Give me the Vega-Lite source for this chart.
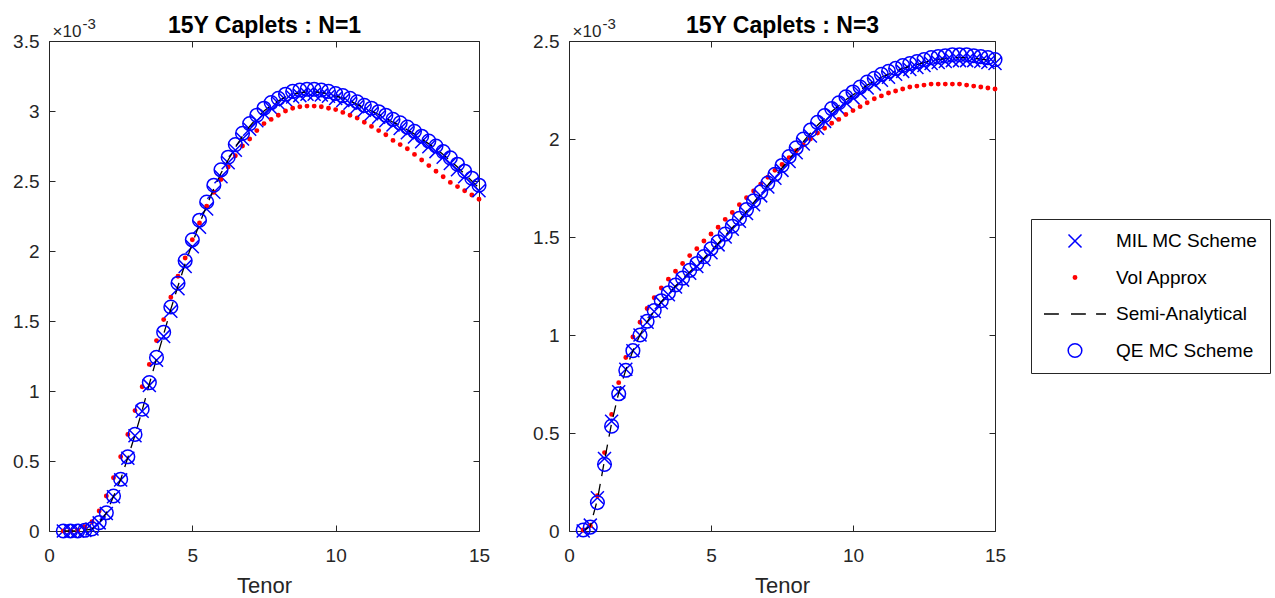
{
  "$schema": "https://vega.github.io/schema/vega-lite/v6.json",
  "padding": {"left": 12, "top": 14, "right": 0, "bottom": 0},
  "data": {"values": [
    {"n":1,"t":0.5,"mil":0,"vol":0,"semi":0,"qe":0},
    {"n":1,"t":0.75,"mil":0,"vol":0,"semi":0,"qe":0},
    {"n":1,"t":1,"mil":0,"vol":0.005,"semi":0,"qe":0},
    {"n":1,"t":1.25,"mil":0.004,"vol":0.03,"semi":0.004,"qe":0.005},
    {"n":1,"t":1.5,"mil":0.014,"vol":0.066,"semi":0.015,"qe":0.015},
    {"n":1,"t":1.75,"mil":0.058,"vol":0.143,"semi":0.059,"qe":0.06},
    {"n":1,"t":2,"mil":0.125,"vol":0.25,"semi":0.128,"qe":0.13},
    {"n":1,"t":2.25,"mil":0.245,"vol":0.38,"semi":0.248,"qe":0.25},
    {"n":1,"t":2.5,"mil":0.365,"vol":0.53,"semi":0.368,"qe":0.37},
    {"n":1,"t":2.75,"mil":0.52,"vol":0.69,"semi":0.525,"qe":0.53},
    {"n":1,"t":3,"mil":0.68,"vol":0.86,"semi":0.685,"qe":0.69},
    {"n":1,"t":3.25,"mil":0.855,"vol":1.03,"semi":0.862,"qe":0.87},
    {"n":1,"t":3.5,"mil":1.04,"vol":1.19,"semi":1.05,"qe":1.06},
    {"n":1,"t":3.75,"mil":1.22,"vol":1.36,"semi":1.23,"qe":1.24},
    {"n":1,"t":4,"mil":1.39,"vol":1.51,"semi":1.405,"qe":1.42},
    {"n":1,"t":4.25,"mil":1.57,"vol":1.67,"semi":1.585,"qe":1.6},
    {"n":1,"t":4.5,"mil":1.73,"vol":1.82,"semi":1.75,"qe":1.77},
    {"n":1,"t":4.75,"mil":1.89,"vol":1.95,"semi":1.91,"qe":1.93},
    {"n":1,"t":5,"mil":2.03,"vol":2.08,"semi":2.055,"qe":2.08},
    {"n":1,"t":5.25,"mil":2.17,"vol":2.2,"semi":2.195,"qe":2.22},
    {"n":1,"t":5.5,"mil":2.3,"vol":2.32,"semi":2.325,"qe":2.35},
    {"n":1,"t":5.75,"mil":2.42,"vol":2.42,"semi":2.445,"qe":2.47},
    {"n":1,"t":6,"mil":2.53,"vol":2.51,"semi":2.555,"qe":2.58},
    {"n":1,"t":6.25,"mil":2.63,"vol":2.6,"semi":2.65,"qe":2.67},
    {"n":1,"t":6.5,"mil":2.72,"vol":2.68,"semi":2.74,"qe":2.76},
    {"n":1,"t":6.75,"mil":2.8,"vol":2.75,"semi":2.82,"qe":2.84},
    {"n":1,"t":7,"mil":2.87,"vol":2.8,"semi":2.89,"qe":2.91},
    {"n":1,"t":7.25,"mil":2.93,"vol":2.86,"semi":2.95,"qe":2.97},
    {"n":1,"t":7.5,"mil":2.98,"vol":2.91,"semi":3.0,"qe":3.02},
    {"n":1,"t":7.75,"mil":3.02,"vol":2.94,"semi":3.04,"qe":3.06},
    {"n":1,"t":8,"mil":3.055,"vol":2.97,"semi":3.072,"qe":3.09},
    {"n":1,"t":8.25,"mil":3.08,"vol":3.0,"semi":3.1,"qe":3.12},
    {"n":1,"t":8.5,"mil":3.1,"vol":3.02,"semi":3.12,"qe":3.14},
    {"n":1,"t":8.75,"mil":3.11,"vol":3.03,"semi":3.13,"qe":3.15},
    {"n":1,"t":9,"mil":3.12,"vol":3.035,"semi":3.137,"qe":3.155},
    {"n":1,"t":9.25,"mil":3.12,"vol":3.035,"semi":3.137,"qe":3.155},
    {"n":1,"t":9.5,"mil":3.115,"vol":3.03,"semi":3.132,"qe":3.15},
    {"n":1,"t":9.75,"mil":3.105,"vol":3.02,"semi":3.122,"qe":3.14},
    {"n":1,"t":10,"mil":3.09,"vol":3.01,"semi":3.107,"qe":3.125},
    {"n":1,"t":10.25,"mil":3.075,"vol":2.99,"semi":3.092,"qe":3.11},
    {"n":1,"t":10.5,"mil":3.055,"vol":2.97,"semi":3.072,"qe":3.09},
    {"n":1,"t":10.75,"mil":3.03,"vol":2.95,"semi":3.047,"qe":3.065},
    {"n":1,"t":11,"mil":3.005,"vol":2.92,"semi":3.022,"qe":3.04},
    {"n":1,"t":11.25,"mil":2.98,"vol":2.89,"semi":3.0,"qe":3.02},
    {"n":1,"t":11.5,"mil":2.955,"vol":2.86,"semi":2.975,"qe":2.995},
    {"n":1,"t":11.75,"mil":2.93,"vol":2.83,"semi":2.95,"qe":2.97},
    {"n":1,"t":12,"mil":2.9,"vol":2.79,"semi":2.92,"qe":2.94},
    {"n":1,"t":12.25,"mil":2.875,"vol":2.76,"semi":2.895,"qe":2.915},
    {"n":1,"t":12.5,"mil":2.845,"vol":2.73,"semi":2.865,"qe":2.885},
    {"n":1,"t":12.75,"mil":2.815,"vol":2.69,"semi":2.835,"qe":2.855},
    {"n":1,"t":13,"mil":2.78,"vol":2.65,"semi":2.8,"qe":2.82},
    {"n":1,"t":13.25,"mil":2.745,"vol":2.61,"semi":2.765,"qe":2.785},
    {"n":1,"t":13.5,"mil":2.71,"vol":2.57,"semi":2.73,"qe":2.75},
    {"n":1,"t":13.75,"mil":2.67,"vol":2.53,"semi":2.69,"qe":2.71},
    {"n":1,"t":14,"mil":2.625,"vol":2.49,"semi":2.645,"qe":2.665},
    {"n":1,"t":14.25,"mil":2.58,"vol":2.46,"semi":2.6,"qe":2.62},
    {"n":1,"t":14.5,"mil":2.53,"vol":2.43,"semi":2.55,"qe":2.57},
    {"n":1,"t":14.75,"mil":2.48,"vol":2.4,"semi":2.5,"qe":2.52},
    {"n":1,"t":15,"mil":2.43,"vol":2.37,"semi":2.45,"qe":2.47},
    {"n":3,"t":0.5,"mil":0,"vol":0.005,"semi":0,"qe":0.005},
    {"n":3,"t":0.75,"mil":0.03,"vol":0.027,"semi":0.025,"qe":0.02},
    {"n":3,"t":1,"mil":0.17,"vol":0.18,"semi":0.16,"qe":0.145},
    {"n":3,"t":1.25,"mil":0.37,"vol":0.4,"semi":0.36,"qe":0.34},
    {"n":3,"t":1.5,"mil":0.56,"vol":0.595,"semi":0.55,"qe":0.535},
    {"n":3,"t":1.75,"mil":0.71,"vol":0.757,"semi":0.705,"qe":0.7},
    {"n":3,"t":2,"mil":0.825,"vol":0.885,"semi":0.822,"qe":0.82},
    {"n":3,"t":2.25,"mil":0.92,"vol":0.99,"semi":0.92,"qe":0.92},
    {"n":3,"t":2.5,"mil":1.0,"vol":1.065,"semi":1.0,"qe":1.0},
    {"n":3,"t":2.75,"mil":1.065,"vol":1.135,"semi":1.067,"qe":1.07},
    {"n":3,"t":3,"mil":1.12,"vol":1.19,"semi":1.122,"qe":1.125},
    {"n":3,"t":3.25,"mil":1.165,"vol":1.24,"semi":1.17,"qe":1.175},
    {"n":3,"t":3.5,"mil":1.205,"vol":1.285,"semi":1.21,"qe":1.215},
    {"n":3,"t":3.75,"mil":1.245,"vol":1.325,"semi":1.25,"qe":1.255},
    {"n":3,"t":4,"mil":1.28,"vol":1.365,"semi":1.285,"qe":1.29},
    {"n":3,"t":4.25,"mil":1.315,"vol":1.405,"semi":1.322,"qe":1.33},
    {"n":3,"t":4.5,"mil":1.35,"vol":1.44,"semi":1.357,"qe":1.365},
    {"n":3,"t":4.75,"mil":1.385,"vol":1.48,"semi":1.392,"qe":1.4},
    {"n":3,"t":5,"mil":1.42,"vol":1.515,"semi":1.43,"qe":1.44},
    {"n":3,"t":5.25,"mil":1.46,"vol":1.55,"semi":1.467,"qe":1.475},
    {"n":3,"t":5.5,"mil":1.5,"vol":1.59,"semi":1.507,"qe":1.515},
    {"n":3,"t":5.75,"mil":1.54,"vol":1.625,"semi":1.547,"qe":1.555},
    {"n":3,"t":6,"mil":1.58,"vol":1.665,"semi":1.587,"qe":1.595},
    {"n":3,"t":6.25,"mil":1.62,"vol":1.7,"semi":1.63,"qe":1.64},
    {"n":3,"t":6.5,"mil":1.665,"vol":1.735,"semi":1.675,"qe":1.685},
    {"n":3,"t":6.75,"mil":1.71,"vol":1.77,"semi":1.72,"qe":1.73},
    {"n":3,"t":7,"mil":1.755,"vol":1.805,"semi":1.765,"qe":1.775},
    {"n":3,"t":7.25,"mil":1.8,"vol":1.84,"semi":1.81,"qe":1.82},
    {"n":3,"t":7.5,"mil":1.84,"vol":1.87,"semi":1.852,"qe":1.865},
    {"n":3,"t":7.75,"mil":1.885,"vol":1.905,"semi":1.897,"qe":1.91},
    {"n":3,"t":8,"mil":1.93,"vol":1.94,"semi":1.942,"qe":1.955},
    {"n":3,"t":8.25,"mil":1.975,"vol":1.97,"semi":1.987,"qe":2.0},
    {"n":3,"t":8.5,"mil":2.015,"vol":2.0,"semi":2.03,"qe":2.045},
    {"n":3,"t":8.75,"mil":2.055,"vol":2.03,"semi":2.07,"qe":2.085},
    {"n":3,"t":9,"mil":2.09,"vol":2.055,"semi":2.105,"qe":2.12},
    {"n":3,"t":9.25,"mil":2.125,"vol":2.08,"semi":2.14,"qe":2.155},
    {"n":3,"t":9.5,"mil":2.155,"vol":2.1,"semi":2.17,"qe":2.185},
    {"n":3,"t":9.75,"mil":2.185,"vol":2.125,"semi":2.2,"qe":2.215},
    {"n":3,"t":10,"mil":2.21,"vol":2.145,"semi":2.225,"qe":2.24},
    {"n":3,"t":10.25,"mil":2.235,"vol":2.165,"semi":2.25,"qe":2.265},
    {"n":3,"t":10.5,"mil":2.26,"vol":2.185,"semi":2.275,"qe":2.29},
    {"n":3,"t":10.75,"mil":2.28,"vol":2.205,"semi":2.295,"qe":2.31},
    {"n":3,"t":11,"mil":2.3,"vol":2.22,"semi":2.315,"qe":2.33},
    {"n":3,"t":11.25,"mil":2.315,"vol":2.235,"semi":2.33,"qe":2.345},
    {"n":3,"t":11.5,"mil":2.33,"vol":2.245,"semi":2.345,"qe":2.36},
    {"n":3,"t":11.75,"mil":2.345,"vol":2.255,"semi":2.36,"qe":2.375},
    {"n":3,"t":12,"mil":2.355,"vol":2.265,"semi":2.37,"qe":2.385},
    {"n":3,"t":12.25,"mil":2.365,"vol":2.27,"semi":2.38,"qe":2.395},
    {"n":3,"t":12.5,"mil":2.375,"vol":2.275,"semi":2.39,"qe":2.405},
    {"n":3,"t":12.75,"mil":2.385,"vol":2.28,"semi":2.4,"qe":2.415},
    {"n":3,"t":13,"mil":2.39,"vol":2.28,"semi":2.405,"qe":2.42},
    {"n":3,"t":13.25,"mil":2.395,"vol":2.28,"semi":2.41,"qe":2.425},
    {"n":3,"t":13.5,"mil":2.4,"vol":2.28,"semi":2.415,"qe":2.43},
    {"n":3,"t":13.75,"mil":2.4,"vol":2.28,"semi":2.415,"qe":2.43},
    {"n":3,"t":14,"mil":2.4,"vol":2.275,"semi":2.415,"qe":2.43},
    {"n":3,"t":14.25,"mil":2.4,"vol":2.27,"semi":2.412,"qe":2.425},
    {"n":3,"t":14.5,"mil":2.395,"vol":2.265,"semi":2.407,"qe":2.42},
    {"n":3,"t":14.75,"mil":2.39,"vol":2.26,"semi":2.402,"qe":2.415},
    {"n":3,"t":15,"mil":2.385,"vol":2.255,"semi":2.395,"qe":2.405}
  ]},
  "spacing": 41,
  "hconcat": [
    {
      "width": 430,
      "height": 490,
      "transform": [{"filter": "datum.n == 1"}, {"fold": ["mil", "vol", "semi", "qe"], "as": ["series", "value"]}],
      "layer": [
        {
          "transform": [{"filter": "datum.series == 'mil' || datum.series == 'vol'"}],
          "mark": {"type": "point", "filled": false, "size": 3844, "strokeWidth": 1.5, "opacity": 1},
          "encoding": {
            "x": {"field": "t", "type": "quantitative", "scale": {"domain": [0, 15], "nice": false, "zero": false},
                  "axis": {"orient": "bottom", "values": [0, 5, 10, 15], "title": "Tenor", "labelPadding": 21, "titlePadding": 10}},
            "y": {"field": "value", "type": "quantitative", "scale": {"domain": [0, 3.5], "nice": false},
                  "axis": {"orient": "left", "values": [0, 0.5, 1, 1.5, 2, 2.5, 3, 3.5], "format": "~g", "labelPadding": 16, "title": "×10", "titleAngle": 0, "titleAlign": "left", "titleBaseline": "alphabetic", "titleX": 3, "titleY": -5, "titleFontSize": 17, "titleFontWeight": "normal"}},
            "shape": {"field": "series", "type": "nominal", "scale": {"domain": ["mil", "vol", "semi", "qe"], "range": ["M-0.21,-0.21L0.21,0.21M-0.21,0.21L0.21,-0.21", "M0.055,0A0.055,0.055,0,1,1,-0.055,0A0.055,0.055,0,1,1,0.055,0ZM0.02,0A0.02,0.02,0,1,1,-0.02,0A0.02,0.02,0,1,1,0.02,0Z", "M-1,0L-0.52,0M-0.13,0L0.35,0M0.68,0L1,0", "M0.22,0A0.22,0.22,0,1,1,-0.22,0A0.22,0.22,0,1,1,0.22,0Z"]},
                      "legend": {"title": null, "labelExpr": "datum.label == 'mil' ? 'MIL MC Scheme' : datum.label == 'vol' ? 'Vol Approx' : datum.label == 'semi' ? 'Semi-Analytical' : 'QE MC Scheme'"}},
            "color": {"field": "series", "type": "nominal", "scale": {"domain": ["mil", "vol", "semi", "qe"], "range": ["#0000ff", "#ff0000", "#000000", "#0000ff"]},
                      "legend": {"title": null, "labelExpr": "datum.label == 'mil' ? 'MIL MC Scheme' : datum.label == 'vol' ? 'Vol Approx' : datum.label == 'semi' ? 'Semi-Analytical' : 'QE MC Scheme'"}}
          }
        },
        {
          "transform": [{"filter": "datum.series == 'semi'"}],
          "mark": {"type": "line", "color": "#000000", "strokeDash": [12, 8], "strokeWidth": 1.3},
          "encoding": {
            "x": {"field": "t", "type": "quantitative", "scale": {"domain": [0, 15], "nice": false, "zero": false},
                  "axis": {"orient": "top", "values": [0, 5, 10, 15], "labels": false, "title": "15Y Caplets : N=1", "titleFontSize": 23, "titleFontWeight": "bold", "titleColor": "#000000", "titlePadding": 3}},
            "y": {"field": "value", "type": "quantitative", "scale": {"domain": [0, 3.5], "nice": false},
                  "axis": {"orient": "right", "values": [0, 0.5, 1, 1.5, 2, 2.5, 3, 3.5], "labels": false, "title": "-3", "titleAngle": 0, "titleAlign": "left", "titleBaseline": "alphabetic", "titleX": -397, "titleY": -13, "titleFontSize": 15, "titleFontWeight": "normal"}}
          }
        },
        {
          "transform": [{"filter": "datum.series == 'qe'"}],
          "mark": {"type": "point", "filled": false, "size": 3844, "strokeWidth": 1.5, "opacity": 1},
          "encoding": {
            "x": {"field": "t", "type": "quantitative", "scale": {"domain": [0, 15], "nice": false, "zero": false}, "axis": null},
            "y": {"field": "value", "type": "quantitative", "scale": {"domain": [0, 3.5], "nice": false}, "axis": null},
            "shape": {"field": "series", "type": "nominal", "scale": {"domain": ["mil", "vol", "semi", "qe"], "range": ["M-0.21,-0.21L0.21,0.21M-0.21,0.21L0.21,-0.21", "M0.055,0A0.055,0.055,0,1,1,-0.055,0A0.055,0.055,0,1,1,0.055,0ZM0.02,0A0.02,0.02,0,1,1,-0.02,0A0.02,0.02,0,1,1,0.02,0Z", "M-1,0L-0.52,0M-0.13,0L0.35,0M0.68,0L1,0", "M0.22,0A0.22,0.22,0,1,1,-0.22,0A0.22,0.22,0,1,1,0.22,0Z"]},
                      "legend": {"title": null, "labelExpr": "datum.label == 'mil' ? 'MIL MC Scheme' : datum.label == 'vol' ? 'Vol Approx' : datum.label == 'semi' ? 'Semi-Analytical' : 'QE MC Scheme'"}},
            "color": {"field": "series", "type": "nominal", "scale": {"domain": ["mil", "vol", "semi", "qe"], "range": ["#0000ff", "#ff0000", "#000000", "#0000ff"]},
                      "legend": {"title": null, "labelExpr": "datum.label == 'mil' ? 'MIL MC Scheme' : datum.label == 'vol' ? 'Vol Approx' : datum.label == 'semi' ? 'Semi-Analytical' : 'QE MC Scheme'"}}
          }
        }
      ],
      "resolve": {"axis": {"x": "independent", "y": "independent"}}
    },
    {
      "width": 426,
      "height": 490,
      "transform": [{"filter": "datum.n == 3"}, {"fold": ["mil", "vol", "semi", "qe"], "as": ["series", "value"]}],
      "layer": [
        {
          "transform": [{"filter": "datum.series == 'mil' || datum.series == 'vol'"}],
          "mark": {"type": "point", "filled": false, "size": 3844, "strokeWidth": 1.5, "opacity": 1},
          "encoding": {
            "x": {"field": "t", "type": "quantitative", "scale": {"domain": [0, 15], "nice": false, "zero": false},
                  "axis": {"orient": "bottom", "values": [0, 5, 10, 15], "title": "Tenor", "labelPadding": 21, "titlePadding": 10}},
            "y": {"field": "value", "type": "quantitative", "scale": {"domain": [0, 2.5], "nice": false},
                  "axis": {"orient": "left", "values": [0, 0.5, 1, 1.5, 2, 2.5], "format": "~g", "labelPadding": 16, "title": "×10", "titleAngle": 0, "titleAlign": "left", "titleBaseline": "alphabetic", "titleX": 3, "titleY": -5, "titleFontSize": 17, "titleFontWeight": "normal"}},
            "shape": {"field": "series", "type": "nominal", "scale": {"domain": ["mil", "vol", "semi", "qe"], "range": ["M-0.21,-0.21L0.21,0.21M-0.21,0.21L0.21,-0.21", "M0.055,0A0.055,0.055,0,1,1,-0.055,0A0.055,0.055,0,1,1,0.055,0ZM0.02,0A0.02,0.02,0,1,1,-0.02,0A0.02,0.02,0,1,1,0.02,0Z", "M-1,0L-0.52,0M-0.13,0L0.35,0M0.68,0L1,0", "M0.22,0A0.22,0.22,0,1,1,-0.22,0A0.22,0.22,0,1,1,0.22,0Z"]},
                      "legend": {"title": null, "labelExpr": "datum.label == 'mil' ? 'MIL MC Scheme' : datum.label == 'vol' ? 'Vol Approx' : datum.label == 'semi' ? 'Semi-Analytical' : 'QE MC Scheme'"}},
            "color": {"field": "series", "type": "nominal", "scale": {"domain": ["mil", "vol", "semi", "qe"], "range": ["#0000ff", "#ff0000", "#000000", "#0000ff"]},
                      "legend": {"title": null, "labelExpr": "datum.label == 'mil' ? 'MIL MC Scheme' : datum.label == 'vol' ? 'Vol Approx' : datum.label == 'semi' ? 'Semi-Analytical' : 'QE MC Scheme'"}}
          }
        },
        {
          "transform": [{"filter": "datum.series == 'semi'"}],
          "mark": {"type": "line", "color": "#000000", "strokeDash": [12, 8], "strokeWidth": 1.3},
          "encoding": {
            "x": {"field": "t", "type": "quantitative", "scale": {"domain": [0, 15], "nice": false, "zero": false},
                  "axis": {"orient": "top", "values": [0, 5, 10, 15], "labels": false, "title": "15Y Caplets : N=3", "titleFontSize": 23, "titleFontWeight": "bold", "titleColor": "#000000", "titlePadding": 3}},
            "y": {"field": "value", "type": "quantitative", "scale": {"domain": [0, 2.5], "nice": false},
                  "axis": {"orient": "right", "values": [0, 0.5, 1, 1.5, 2, 2.5], "labels": false, "title": "-3", "titleAngle": 0, "titleAlign": "left", "titleBaseline": "alphabetic", "titleX": -393, "titleY": -13, "titleFontSize": 15, "titleFontWeight": "normal"}}
          }
        },
        {
          "transform": [{"filter": "datum.series == 'qe'"}],
          "mark": {"type": "point", "filled": false, "size": 3844, "strokeWidth": 1.5, "opacity": 1},
          "encoding": {
            "x": {"field": "t", "type": "quantitative", "scale": {"domain": [0, 15], "nice": false, "zero": false}, "axis": null},
            "y": {"field": "value", "type": "quantitative", "scale": {"domain": [0, 2.5], "nice": false}, "axis": null},
            "shape": {"field": "series", "type": "nominal", "scale": {"domain": ["mil", "vol", "semi", "qe"], "range": ["M-0.21,-0.21L0.21,0.21M-0.21,0.21L0.21,-0.21", "M0.055,0A0.055,0.055,0,1,1,-0.055,0A0.055,0.055,0,1,1,0.055,0ZM0.02,0A0.02,0.02,0,1,1,-0.02,0A0.02,0.02,0,1,1,0.02,0Z", "M-1,0L-0.52,0M-0.13,0L0.35,0M0.68,0L1,0", "M0.22,0A0.22,0.22,0,1,1,-0.22,0A0.22,0.22,0,1,1,0.22,0Z"]},
                      "legend": {"title": null, "labelExpr": "datum.label == 'mil' ? 'MIL MC Scheme' : datum.label == 'vol' ? 'Vol Approx' : datum.label == 'semi' ? 'Semi-Analytical' : 'QE MC Scheme'"}},
            "color": {"field": "series", "type": "nominal", "scale": {"domain": ["mil", "vol", "semi", "qe"], "range": ["#0000ff", "#ff0000", "#000000", "#0000ff"]},
                      "legend": {"title": null, "labelExpr": "datum.label == 'mil' ? 'MIL MC Scheme' : datum.label == 'vol' ? 'Vol Approx' : datum.label == 'semi' ? 'Semi-Analytical' : 'QE MC Scheme'"}}
          }
        }
      ],
      "resolve": {"axis": {"x": "independent", "y": "independent"}}
    }
  ],
  "resolve": {"scale": {"x": "independent", "y": "independent", "color": "shared", "shape": "shared"}},
  "config": {
    "font": "Liberation Sans",
    "view": {"stroke": "#262626", "strokeWidth": 1},
    "axis": {
      "grid": false,
      "domain": false,
      "ticks": true,
      "tickSize": -6,
      "tickColor": "#262626",
      "tickWidth": 1,
      "labelFont": "Liberation Sans",
      "labelFontSize": 19,
      "labelColor": "#262626",
      "labelFlush": false,
      "labelOverlap": false,
      "titleFont": "Liberation Sans",
      "titleFontSize": 22,
      "titleFontWeight": "normal",
      "titleColor": "#262626"
    },
    "legend": {
      "orient": "none",
      "legendX": 982,
      "legendY": 178,
      "padding": 12,
      "strokeColor": "#262626",
      "fillColor": "#ffffff",
      "labelFont": "Liberation Sans",
      "labelFontSize": 19,
      "labelColor": "#000000",
      "labelOffset": 9,
      "labelLimit": 300,
      "clipHeight": 20,
      "rowPadding": 16.5,
      "symbolSize": 3844,
      "symbolStrokeWidth": 1.5,
      "symbolOffset": 0
    }
  }
}
